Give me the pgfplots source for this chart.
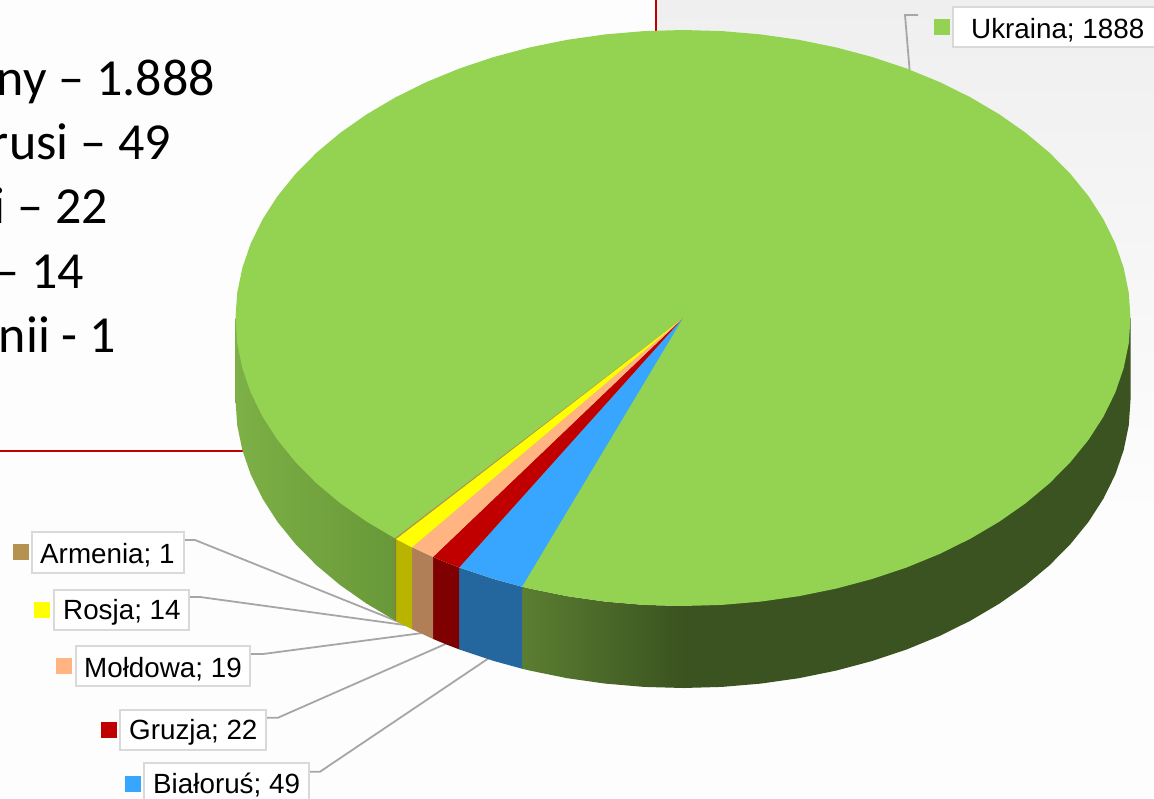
\documentclass[border=0pt]{standalone}
\usepackage{pgfplots}
\pgfplotsset{compat=1.18}
\usepackage{fontspec}
\setmainfont{Liberation Sans}
\newfontfamily\carlito{Carlito}
\definecolor{bgw}{HTML}{FDFDFD}
\definecolor{bgg}{HTML}{EFEFEF}
\definecolor{redl}{HTML}{C00000}
\definecolor{lead}{HTML}{A6A6A6}
\definecolor{boxg}{HTML}{D9D9D9}
\definecolor{gtop}{HTML}{93D351}
\definecolor{gdark}{HTML}{3B5320}
\definecolor{gmid}{HTML}{5A7E31}
\definecolor{gl1}{HTML}{7DB046}
\definecolor{gl2}{HTML}{689838}
\definecolor{btop}{HTML}{38A6FF}
\definecolor{bside}{HTML}{24679F}
\definecolor{rtop}{HTML}{C00000}
\definecolor{rside}{HTML}{7F0000}
\definecolor{ptop}{HTML}{FFB482}
\definecolor{pside}{HTML}{B07F58}
\definecolor{ytop}{HTML}{FFFF00}
\definecolor{yside}{HTML}{B9B400}
\definecolor{atop}{HTML}{B5924F}
\definecolor{aside}{HTML}{8D7A3F}
\pgfplotsset{
  pie/.style={x filter/.expression={x+683},y filter/.expression={y+318}},
  leader/.style={draw=lead,line width=1.8pt},
  lab/.style={fill=white,draw=boxg,line width=1.6pt},
  sq/.style={only marks,mark=square*,mark size=7.5pt,mark options={draw=#1,fill=#1,line width=0pt}},
}
\newcommand{\lt}[3]{\node[anchor=base west,inner sep=0pt,font=\fontsize{27.8}{27.8}\selectfont,text=black] at (axis cs:#1,#2) {#3};}
\newcommand{\bt}[3]{\node[anchor=base east,inner sep=0pt,font=\carlito\fontsize{52}{52}\selectfont,text=black] at (axis cs:#1,#2) {#3};}
\begin{document}
\begin{tikzpicture}
\path[use as bounding box] (0,0) rectangle (1154pt,798pt);
\begin{axis}[
  at={(0,0)},anchor=south west,
  width=1154pt,height=798pt,scale only axis,
  xmin=0,xmax=1154,ymin=0,ymax=798,y dir=reverse,
  hide axis]
% background
\addplot[fill=bgw,draw=none] coordinates {(0,0)(1154,0)(1154,798)(0,798)} -- cycle;
\addplot[top color=bgg,bottom color=bgw,draw=none] coordinates {(656,0)(1154,0)(1154,520)(656,520)} -- cycle;
\addplot[draw=redl,line width=2pt] coordinates {(656,0)(656,40)};
\addplot[draw=redl,line width=2pt] coordinates {(0,451)(260,451)};
% leader lines
\addplot[leader] coordinates {(184,540)(195,540)(404,624)};
\addplot[leader] coordinates {(189,597)(200,597)(412,626)};
\addplot[leader] coordinates {(250,654)(263,654)(430,632)};
\addplot[leader] coordinates {(266,717.7)(278,717.7)(450,642)};
\addplot[leader] coordinates {(309,771.7)(320,771.7)(492,656)};
\addplot[leader] coordinates {(918,15)(905,15)(910,75)};
% pie walls
\addplot[pie,fill=gdark,draw=none] coordinates {(0,0)(447.5,0)(447.5,82)(445.8,107.1)(440.7,132)(432.3,156.5)(420.5,180.5)(405.6,203.7)(387.5,226)(366.6,247.2)(342.8,267.1)(316.4,285.6)(287.6,302.6)(256.7,317.9)(223.8,331.4)(189.1,343)(153.1,352.6)(115.8,360.2)(77.7,365.6)(39,368.9)(0,370)} -- cycle;
\addplot[pie,left color=gmid,right color=gdark,draw=none] coordinates {(-161,268.7)(-153.1,270.6)(-115.8,278.2)(-77.7,283.6)(-39,286.9)(0.5,288)(0.5,370)(-39,368.9)(-77.7,365.6)(-115.8,360.2)(-153.1,352.6)(-161,350.7)} -- cycle;
\addplot[pie,fill=bside,draw=none] coordinates {(-223.8,249.4)(-189.1,261)(-161,268.7)(-161,350.7)(-189.1,343)(-223.8,331.4)} -- cycle;
\addplot[pie,fill=rside,draw=none] coordinates {(-250,238.9)(-237,244.3)(-223.8,249.4)(-223.8,331.4)(-237,326.3)(-250,320.9)} -- cycle;
\addplot[pie,fill=pside,draw=none] coordinates {(-271,229.2)(-250,238.9)(-250,320.9)(-271,311.2)} -- cycle;
\addplot[pie,fill=yside,draw=none] coordinates {(-287,221)(-271,229.2)(-271,311.2)(-287,303)} -- cycle;
\addplot[pie,left color=gl1,right color=gl2,draw=none] coordinates {(-447.5,0)(-447.5,82)(-445.8,107.1)(-440.7,132)(-432.3,156.5)(-420.5,180.5)(-405.6,203.7)(-387.5,226)(-366.6,247.2)(-342.8,267.1)(-316.4,285.6)(-288.2,302.3)(-288.2,220.3)} -- cycle;
\addplot[pie,fill=aside,draw=none] coordinates {(-288.2,220.3)(-287,221)(-287,303)(-288.2,302.3)} -- cycle;
% pie top
\addplot[pie,fill=gtop,draw=none] coordinates {
(447.5,0)(445.8,25.1)(440.7,50)(432.3,74.5)(420.5,98.5)(405.6,121.7)(387.5,144)(366.6,165.2)(342.8,185.1)(316.4,203.6)(287.6,220.6)(256.7,235.9)(223.8,249.4)(189.1,261)(153.1,270.6)(115.8,278.2)(77.7,283.6)(39,286.9)(0,288)
(-39,286.9)(-77.7,283.6)(-115.8,278.2)(-153.1,270.6)(-189.1,261)(-223.8,249.4)(-256.7,235.9)(-287.6,220.6)(-316.4,203.6)(-342.8,185.1)(-366.6,165.2)(-387.5,144)(-405.6,121.7)(-420.5,98.5)(-432.3,74.5)(-440.7,50)(-445.8,25.1)(-447.5,0)
(-445.8,-25.1)(-440.7,-50)(-432.3,-74.5)(-420.5,-98.5)(-405.6,-121.7)(-387.5,-144)(-366.6,-165.2)(-342.8,-185.1)(-316.4,-203.6)(-287.6,-220.6)(-256.7,-235.9)(-223.8,-249.4)(-189.1,-261)(-153.1,-270.6)(-115.8,-278.2)(-77.7,-283.6)(-39,-286.9)(0,-288)
(39,-286.9)(77.7,-283.6)(115.8,-278.2)(153.1,-270.6)(189.1,-261)(223.8,-249.4)(256.7,-235.9)(287.6,-220.6)(316.4,-203.6)(342.8,-185.1)(366.6,-165.2)(387.5,-144)(405.6,-121.7)(420.5,-98.5)(432.3,-74.5)(440.7,-50)(445.8,-25.1)} -- cycle;
\addplot[pie,fill=btop,draw=none] coordinates {(0,0)(-161,268.7)(-189.1,261)(-223.8,249.4)} -- cycle;
\addplot[pie,fill=rtop,draw=none] coordinates {(0,0)(-223.8,249.4)(-237,244.3)(-250,238.9)} -- cycle;
\addplot[pie,fill=ptop,draw=none] coordinates {(0,0)(-250,238.9)(-271,229.2)} -- cycle;
\addplot[pie,fill=ytop,draw=none] coordinates {(0,0)(-271,229.2)(-287,221)} -- cycle;
\addplot[pie,fill=atop,draw=none] coordinates {(0,0)(-287,221)(-288.2,220.3)} -- cycle;
% label boxes
\addplot[lab] coordinates {(32,532)(184,532)(184,573)(32,573)} -- cycle;
\addplot[lab] coordinates {(54,590)(189,590)(189,630)(54,630)} -- cycle;
\addplot[lab] coordinates {(76,646)(250,646)(250,686)(76,686)} -- cycle;
\addplot[lab] coordinates {(120,710)(266,710)(266,750)(120,750)} -- cycle;
\addplot[lab] coordinates {(144,763)(309,763)(309,810)(144,810)} -- cycle;
\addplot[lab] coordinates {(953,7)(1170,7)(1170,47)(953,47)} -- cycle;
% legend keys
\addplot[sq=atop] coordinates {(20.5,551.5)};
\addplot[sq=ytop] coordinates {(41.5,609.5)};
\addplot[sq=ptop] coordinates {(63.5,665.5)};
\addplot[sq=rtop] coordinates {(108.5,729.5)};
\addplot[sq=btop] coordinates {(132.5,783.5)};
\addplot[sq=gtop] coordinates {(941.5,26.5)};
% label texts
\lt{40}{563}{Armenia; 1}
\lt{63}{619}{Rosja; 14}
\lt{84}{677}{Mołdowa; 19}
\lt{129}{739}{Gruzja; 22}
\lt{153}{793}{Białoruś; 49}
\lt{971}{38}{Ukraina; 1888}
% slide text
\bt{215}{95}{ny – 1.888}
\bt{171}{159}{rusi – 49}
\bt{108}{223}{i – 22}
\bt{84}{288}{– 14}
\bt{116}{352}{nii - 1}
\end{axis}
\end{tikzpicture}
\end{document}
